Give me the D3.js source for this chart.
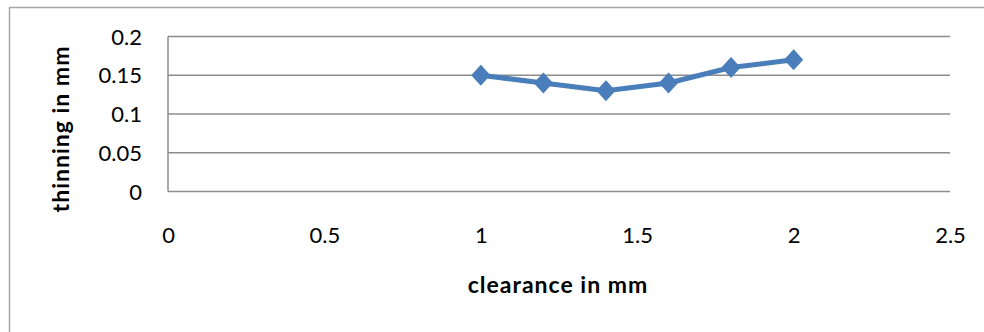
<!DOCTYPE html>
<html>
<head>
<meta charset="utf-8">
<script src="https://cdn.jsdelivr.net/npm/d3@7"></script>
<style>
  html, body { margin: 0; padding: 0; background: #fff; }
  svg { display: block; font-family: Lato, "Open Sans", sans-serif; }
</style>
</head>
<body>
<svg id="chart" width="984" height="332"></svg>
<script>
// Clearance (mm) vs. thinning (mm)
const clearance = [1, 1.2, 1.4, 1.6, 1.8, 2];
const thinning = [0.15, 0.14, 0.13, 0.14, 0.16, 0.17];
const xTicks = [0, 0.5, 1, 1.5, 2, 2.5];
const yTicks = [0, 0.05, 0.1, 0.15, 0.2];

const svg = d3.select("#chart");

// chart frame
svg.append("rect")
  .attr("x", 9.5).attr("y", 7.5)
  .attr("width", 1000).attr("height", 400)
  .attr("fill", "none").attr("stroke", "#a6a6a6").attr("stroke-width", 1.5);

const plot = { left: 168, right: 950, top: 36.5, bottom: 191.5 };
const x = d3.scaleLinear().domain([0, 2.5]).range([plot.left, plot.right]);
const y = d3.scaleLinear().domain([0, 0.2]).range([plot.bottom, plot.top]);

// horizontal gridlines
svg.append("g")
  .selectAll("line")
  .data(yTicks)
  .join("line")
  .attr("x1", plot.left).attr("x2", plot.right)
  .attr("y1", d => y(d)).attr("y2", d => y(d))
  .attr("stroke", "#8c8c8c").attr("stroke-width", 1.5);

// vertical axis line
svg.append("line")
  .attr("x1", plot.left).attr("x2", plot.left)
  .attr("y1", plot.top).attr("y2", plot.bottom)
  .attr("stroke", "#8c8c8c").attr("stroke-width", 1.5);

// y axis labels
const yAxis = d3.axisLeft(y).tickValues(yTicks).tickSize(0).tickPadding(0)
  .tickFormat(d => String(+d.toFixed(2)));
const gy = svg.append("g").attr("transform", `translate(${plot.left - 26},0)`).call(yAxis);
gy.select(".domain").remove();
gy.selectAll("text").attr("font-size", 22).attr("fill", "#000")
  .attr("font-family", "Lato, 'Open Sans', sans-serif").attr("dy", "0.35em");

// x axis labels
const xAxis = d3.axisBottom(x).tickValues(xTicks).tickSize(0).tickPadding(0)
  .tickFormat(d => String(d));
const gx = svg.append("g").attr("transform", `translate(0,${plot.bottom + 51})`).call(xAxis);
gx.select(".domain").remove();
gx.selectAll("text").attr("font-size", 22).attr("fill", "#000")
  .attr("font-family", "Lato, 'Open Sans', sans-serif").attr("dy", 0).attr("y", 0);

// axis titles
svg.append("text")
  .attr("x", 558).attr("y", 293)
  .attr("text-anchor", "middle")
  .attr("font-size", 23).attr("font-weight", "bold").attr("letter-spacing", 1)
  .text("clearance in mm");

svg.append("text")
  .attr("transform", "translate(69,129) rotate(-90)")
  .attr("text-anchor", "middle")
  .attr("font-size", 23).attr("font-weight", "bold").attr("letter-spacing", 1)
  .text("thinning in mm");

// series line
const pts = clearance.map((c, i) => [c, thinning[i]]);
svg.append("path")
  .datum(pts)
  .attr("d", d3.line().x(d => x(d[0])).y(d => y(d[1])))
  .attr("fill", "none").attr("stroke", "#4a7ebb").attr("stroke-width", 5)
  .attr("stroke-linejoin", "round");

// diamond markers
svg.append("g")
  .selectAll("path")
  .data(pts)
  .join("path")
  .attr("transform", d => `translate(${x(d[0])},${y(d[1])}) scale(1,1.1)`)
  .attr("d", d3.symbol().type(d3.symbolDiamond2).size(200))
  .attr("fill", "#4a7ebb").attr("stroke", "#4a7ebb").attr("stroke-width", 1);
</script>
</body>
</html>
